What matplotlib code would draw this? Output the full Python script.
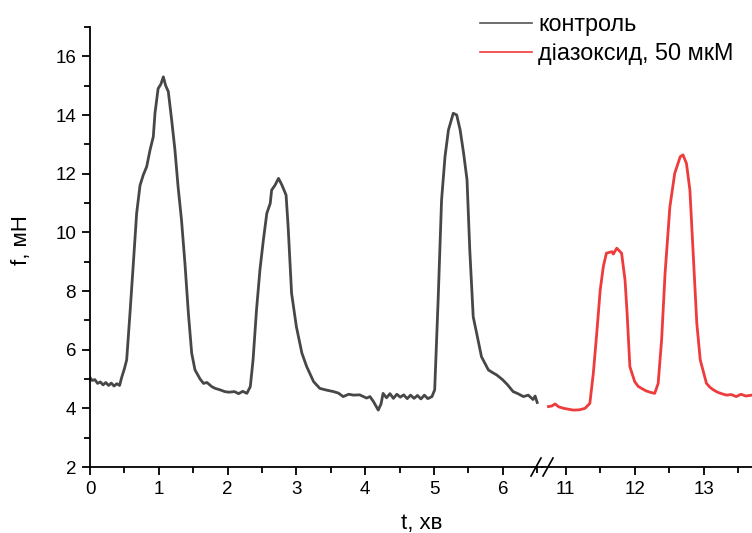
import matplotlib
matplotlib.use("Agg")
import matplotlib.pyplot as plt
from matplotlib.ticker import MultipleLocator
from matplotlib.lines import Line2D

plt.rcParams['font.family'] = ['Liberation Sans', 'DejaVu Sans']

# control series (t, min ; f, mN)
control_t = [0.00, 0.03, 0.07, 0.11, 0.15, 0.19, 0.23, 0.27, 0.31, 0.35, 0.39, 0.43, 0.46,
             0.50, 0.533, 0.581, 0.63, 0.678, 0.727, 0.775, 0.824, 0.872, 0.92, 0.945, 0.99,
             1.03, 1.066, 1.10, 1.138, 1.187, 1.235, 1.28, 1.33, 1.38, 1.43, 1.478, 1.526,
             1.60, 1.65, 1.70, 1.77, 1.82, 1.89, 1.96, 2.02, 2.10, 2.16, 2.22, 2.28, 2.33,
             2.37, 2.42, 2.47, 2.52, 2.57, 2.62, 2.64, 2.69, 2.74, 2.79, 2.85, 2.88, 2.93,
             3.00, 3.08, 3.15, 3.25, 3.34, 3.44, 3.54, 3.61, 3.68, 3.76, 3.83, 3.92, 4.02,
             4.07, 4.12, 4.19, 4.23, 4.26, 4.31, 4.36, 4.41, 4.46, 4.51, 4.56, 4.61, 4.66,
             4.71, 4.76, 4.81, 4.86, 4.91, 4.97, 5.01, 5.06, 5.11, 5.16, 5.21, 5.28, 5.33,
             5.38, 5.43, 5.48, 5.52, 5.57, 5.62, 5.69, 5.79, 5.85, 5.91, 6.00, 6.07, 6.15,
             6.22, 6.30, 6.37, 6.44, 6.47, 6.50]
control_f = [5.05, 4.95, 4.98, 4.85, 4.90, 4.80, 4.88, 4.78, 4.86, 4.76, 4.84, 4.78, 5.05,
             5.35, 5.65, 7.24, 8.94, 10.65, 11.60, 11.96, 12.24, 12.80, 13.26, 14.07, 14.90,
             15.05, 15.30, 15.00, 14.80, 13.83, 12.80, 11.56, 10.42, 8.94, 7.24, 5.88, 5.31,
             5.00, 4.85, 4.88, 4.74, 4.68, 4.63, 4.57, 4.55, 4.57, 4.50, 4.58, 4.51, 4.74,
             5.65, 7.35, 8.72, 9.74, 10.65, 10.99, 11.44, 11.61, 11.84, 11.61, 11.27, 10.19, 7.92,
             6.78, 5.88, 5.42, 4.91, 4.68, 4.62, 4.57, 4.52, 4.40, 4.48, 4.45, 4.46, 4.35,
             4.40, 4.23, 3.94, 4.15, 4.51, 4.36, 4.50, 4.34, 4.48, 4.38, 4.46, 4.33, 4.45,
             4.34, 4.44, 4.32, 4.45, 4.33, 4.40, 4.63, 7.69, 11.10, 12.58, 13.49, 14.06, 14.00,
             13.49, 12.70, 11.79, 9.40, 7.12, 6.56, 5.76, 5.31, 5.22, 5.14, 4.97, 4.80, 4.57,
             4.50, 4.40, 4.45, 4.30, 4.42, 4.20]

# diazoxide series
diaz_t = [10.75, 10.80, 10.845, 10.90, 10.97, 11.04, 11.11, 11.20, 11.28, 11.35, 11.40,
          11.45, 11.50, 11.545, 11.59, 11.67, 11.69, 11.74, 11.81, 11.86, 11.89, 11.93,
          12.00, 12.05, 12.10, 12.16, 12.22, 12.29, 12.34, 12.39, 12.44, 12.51, 12.58,
          12.66, 12.70, 12.75, 12.80, 12.85, 12.90, 12.95, 13.04, 13.09, 13.14, 13.20,
          13.26, 13.33, 13.40, 13.47, 13.54, 13.61, 13.70]
diaz_f = [4.06, 4.08, 4.15, 4.05, 4.00, 3.97, 3.94, 3.95, 4.00, 4.17, 5.19,
          6.56, 8.03, 8.83, 9.29, 9.34, 9.26, 9.46, 9.29, 8.37, 7.24, 5.42,
          4.91, 4.75, 4.68, 4.60, 4.55, 4.51, 4.85, 6.33, 8.60, 10.87, 12.01,
          12.58, 12.64, 12.35, 11.44, 9.17, 6.90, 5.65, 4.85, 4.72, 4.63, 4.55,
          4.50, 4.45, 4.47, 4.40, 4.48, 4.42, 4.45]

y_ticks = [2, 4, 6, 8, 10, 12, 14, 16]
left_xticks = [0, 1, 2, 3, 4, 5, 6]
right_xticks = [11, 12, 13]
labels = ['контроль', 'діазоксид, 50 мкМ']

col_ctrl = '#474747'
col_diaz = '#EE3B3B'

W, H = 752, 533
fig = plt.figure(figsize=(W / 100, H / 100), dpi=100)

x0, xb, x1 = 90, 542, 752
ybot, ytop = 467, 27
axL = fig.add_axes([x0 / W, 1 - ybot / H, (xb - x0) / W, (ybot - ytop) / H])
axR = fig.add_axes([xb / W, 1 - ybot / H, (x1 - xb) / W, (ybot - ytop) / H])

axL.plot(control_t, control_f, color=col_ctrl, lw=2.0, solid_joinstyle='round')
axR.plot(diaz_t, diaz_f, color=col_diaz, lw=2.0, solid_joinstyle='round')

axL.set_xlim(0, (xb - x0) / 68.8)
axR.set_xlim(11 + (xb - 565.7) / 69.0, 11 + (x1 - 565.7) / 69.0)
for ax in (axL, axR):
    ax.set_ylim(2, 17)
    ax.spines['top'].set_visible(False)
    ax.spines['right'].set_visible(False)
    ax.spines['bottom'].set_linewidth(1.3)
    ax.spines['left'].set_linewidth(1.3)
    ax.xaxis.set_minor_locator(MultipleLocator(0.5))
    ax.tick_params(which='major', direction='out', length=6, width=1.3, labelsize=13.5, pad=4)
    ax.tick_params(which='minor', direction='out', length=4, width=1.3)
    ax.set_facecolor('none')

axL.set_xticks(left_xticks)
axR.set_xticks(right_xticks)
axL.set_yticks(y_ticks)
axL.yaxis.set_minor_locator(MultipleLocator(1))
axR.spines['left'].set_visible(False)
axR.tick_params(axis='y', which='both', left=False, labelleft=False)

# break marks
for dx in (0, 12):
    fig.add_artist(Line2D([(531 + dx) / W, (541 + dx) / W], [1 - 476 / H, 1 - 458 / H],
                          color='black', lw=1.2, transform=fig.transFigure))

fig.text(422 / W, 1 - 523 / H, 't, хв', ha='center', va='center', fontsize=16)
fig.text(22 / W, 1 - 240 / H, 'f, мН', ha='center', va='center', rotation=90, fontsize=16)

handles = [Line2D([], [], color='#555555', lw=1.2), Line2D([], [], color=col_diaz, lw=1.2)]
fig.legend(handles, labels, loc='upper left', bbox_to_anchor=(480 / W, 1 - 13 / H),
           frameon=False, fontsize=16.8, handlelength=2.23, handletextpad=0.26,
           labelspacing=0.25, borderaxespad=0, borderpad=0)

fig.savefig('out.png', dpi=100)
